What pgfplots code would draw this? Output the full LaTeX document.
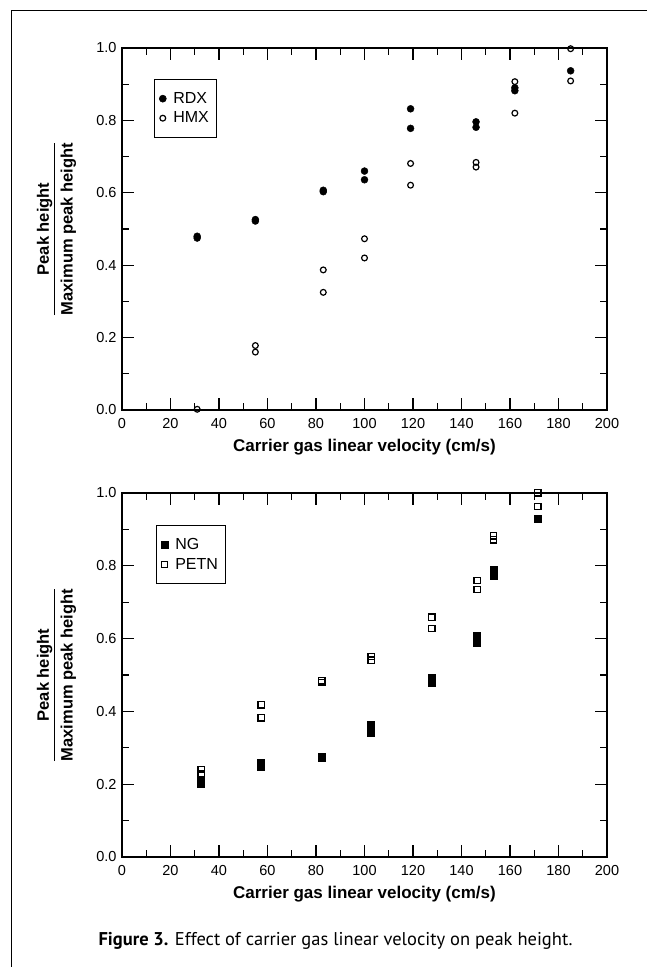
\documentclass[border=0pt]{standalone}
\usepackage{fontspec}
\setmainfont{Liberation Sans}
\newfontfamily\capfont{PT Sans}
\usepackage{pgfplots}
\pgfplotsset{compat=1.18}

\pgfplotsset{
  gcplot/.style={
    scale only axis,
    anchor=south west,
    width=485pt,
    xmin=0, xmax=200, ymin=0, ymax=1,
    xtick={0,20,...,200},
    ytick={0,0.2,0.4,0.6,0.8,1.0},
    minor x tick num=1,
    minor y tick num=1,
    tick align=inside,
    major tick length=12pt,
    minor tick length=7pt,
    every tick/.style={black, line width=1.1pt},
    axis line style={line width=1.3pt},
    /pgf/number format/assume math mode=true,
    ticklabel style={font=\fontsize{14.5}{16}\selectfont},
    xticklabel style={yshift=-5pt},
    yticklabel style={xshift=-2pt, /pgf/number format/fixed,
      /pgf/number format/fixed zerofill, /pgf/number format/precision=1},
    xlabel={Carrier gas linear velocity (cm/s)},
    xlabel style={font=\fontsize{17}{19}\selectfont\bfseries, yshift=-4pt},
    ylabel={\begin{tabular}{@{}c@{}}Peak height\\[1pt]\hline\rule{0pt}{18pt}Maximum peak height\end{tabular}},
    every axis y label/.style={at={(axis description cs:-0.134,0.5)}, rotate=90, anchor=center,
      font=\fontsize{16.5}{15}\selectfont\bfseries},
    legend cell align=left,
    legend style={draw=black, line width=0.6pt, anchor=north west,
      font=\fontsize{16}{18}\selectfont, inner xsep=5pt, inner ysep=11pt, row sep=3pt},
  },
}

\begin{document}
\begin{tikzpicture}[x=1pt,y=1pt]
\path[use as bounding box] (0,0) rectangle (647,967);
\draw[line width=1.3pt] (11.5,0) -- (11.5,956.5) -- (647,956.5);

\begin{axis}[gcplot, at={(122pt,557pt)}, height=362pt,
  legend style={at={(0.066,0.914)}}]
\addplot[only marks, mark=*, mark size=3.5pt, mark options={fill=black, draw=black}]
coordinates {(31,0.480)(31,0.475)(55,0.526)(55,0.522)(83,0.607)(83,0.603)
(100,0.660)(100,0.636)(119,0.832)(119,0.778)(146,0.796)(146,0.781)
(162,0.890)(162,0.882)(185,0.937)};
\addplot[only marks, mark=o, mark size=2.9pt, mark options={draw=black, fill=white, line width=1.2pt}]
coordinates {(31,0.002)(55,0.178)(55,0.160)(83,0.387)(83,0.325)(100,0.473)(100,0.420)
(119,0.681)(119,0.621)(146,0.684)(146,0.671)(162,0.907)(162,0.820)(185,0.998)(185,0.909)};
\legend{\hspace{5pt}RDX\hspace{17pt}, \hspace{5pt}HMX\hspace{17pt}}
\end{axis}

\begin{axis}[gcplot, at={(122pt,110pt)}, height=364pt,
  legend style={at={(0.070,0.912)}}]
\addplot[only marks, mark=square*, mark size=3.5pt, mark options={fill=black, draw=black}]
coordinates {(32.6,0.212)(32.6,0.200)(57.4,0.258)(57.4,0.249)(82.4,0.276)(82.4,0.272)
(102.7,0.364)(102.7,0.341)(127.8,0.493)(127.8,0.479)(146.4,0.608)(146.4,0.590)
(153.2,0.788)(153.2,0.774)(171.5,0.929)};
\addplot[only marks, mark=square, mark size=3.1pt, mark options={draw=black, fill=white, line width=1.2pt}]
coordinates {(32.6,0.240)(32.6,0.228)(57.4,0.418)(57.4,0.382)(82.4,0.484)(82.4,0.479)
(102.7,0.551)(102.7,0.541)(127.8,0.659)(127.8,0.627)(146.4,0.760)(146.4,0.735)
(153.2,0.882)(153.2,0.871)(171.5,1.000)(171.5,0.963)};
\legend{\hspace{5pt}NG\hspace{17pt}, \hspace{5pt}PETN\hspace{17pt}}
\end{axis}

\node[anchor=base west, font=\capfont\fontsize{18.5}{22}\selectfont] at (95,21)
  {\textbf{Figure 3.} Effect of carrier gas linear velocity on peak height.};
\end{tikzpicture}
\end{document}
